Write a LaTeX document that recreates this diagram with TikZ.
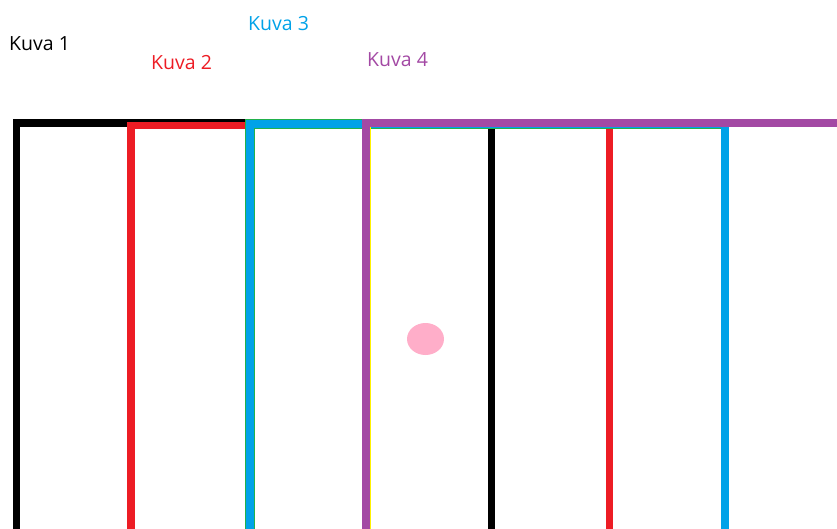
\documentclass[tikz,border=0pt]{standalone}
\usepackage{fontspec}
\setmainfont{Open Sans}
\definecolor{pblack}{HTML}{000000}
\definecolor{pred}{HTML}{ED1C24}
\definecolor{pblue}{HTML}{00A2E8}
\definecolor{pgreen}{HTML}{22B14C}
\definecolor{ppurple}{HTML}{A349A4}
\definecolor{pyellow}{HTML}{FFF200}
\definecolor{ppink}{HTML}{FFAEC9}
\begin{document}
\begin{tikzpicture}[x=1pt,y=-1pt,
  lbl/.style={anchor=base west,inner sep=0pt,font=\fontsize{19.5}{21}\selectfont},
  frame/.style={line width=7.5pt,line join=miter}]
\useasboundingbox (0,0) rectangle (837,528);
\clip (0,0) rectangle (837,528);
% Kuva 1
\draw[frame,pblack] (16.5,560) -- (16.5,123) -- (491.5,123) -- (491.5,560);
% Kuva 2
\draw[frame,pred] (131,560) -- (131,125.5) -- (609.5,125.5) -- (609.5,560);
% Kuva 3
\draw[frame,pgreen,line width=10pt] (250,560) -- (250,124) -- (724.5,124);
\draw[frame,pblue,line width=8pt] (250,560) -- (250,124) -- (724.5,124) -- (724.5,560);
% Kuva 4
\draw[frame,ppurple,line width=8pt] (366,560) -- (366,123) -- (900,123);
\draw[pyellow,line width=1.5pt] (370.7,127) -- (370.7,560);
% dot
\fill[ppink] (425.5,339) ellipse [x radius=18.5pt, y radius=16pt];
% labels
\node[lbl,text=pblack] (k1) at (9,50.7) {Kuva 1};
\node[lbl,text=pred] (k2) at (151,69) {Kuva 2};
\node[lbl,text=pblue] (k3) at (248,30) {Kuva 3};
\node[lbl,text=ppurple] (k4) at (367,66) {Kuva 4};
\end{tikzpicture}
\end{document}
